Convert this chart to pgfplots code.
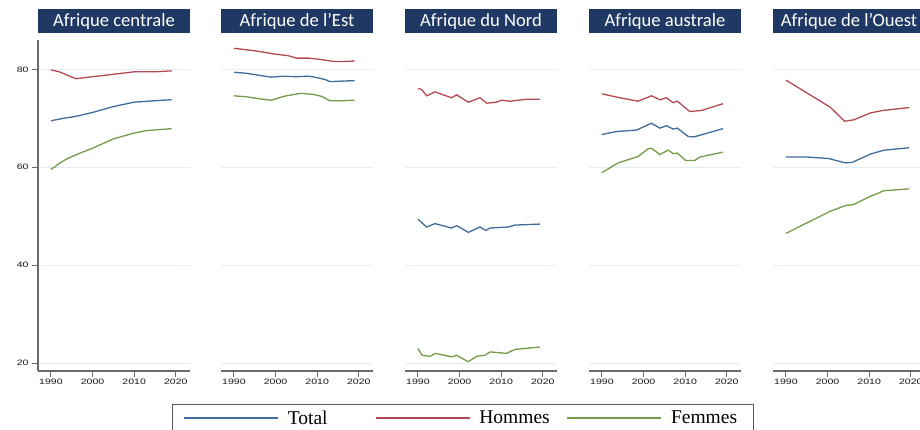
\documentclass[border=0pt]{standalone}
\usepackage{pgfplots}
\pgfplotsset{compat=1.18}
\usepackage{fontspec}
\setmainfont{Liberation Serif}
\newfontfamily\titlefont{Carlito}
\newfontfamily\tickfont[FakeStretch=1.35]{Liberation Sans}
\newfontfamily\legfont{Liberation Serif}
\definecolor{navy}{HTML}{1F3864}
\definecolor{cTot}{HTML}{3F6C9A}
\definecolor{cHom}{HTML}{B34A53}
\definecolor{cFem}{HTML}{76994B}
\definecolor{gridc}{HTML}{E6EDF1}
\definecolor{axc}{HTML}{6A6A6A}
\pgfplotsset{
  panel/.style={
    scale only axis, width=152pt, height=331pt,
    xmin=1986.9, xmax=2023.4, ymin=18.4, ymax=86,
    axis x line*=bottom, axis y line*=left,
    axis line style={-, draw=axc, line width=1.3pt},
    xtick={1990,2000,2010,2020}, ytick={20,40,60,80},
    tick align=outside, major tick length=6pt,
    tick style={draw=axc, line width=1pt},
    ymajorgrids, major grid style={draw=gridc, line width=0.9pt},
    /pgf/number format/1000 sep={},
    /pgf/number format/assume math mode=true,
    tick label style={font=\tickfont\fontsize{7.8}{8}\selectfont, text=black!90},
    xticklabel style={yshift=1pt},
    title style={at={(0.5,1)}, anchor=south, fill=navy, text=white,
      minimum width=152pt, minimum height=24pt, inner sep=0pt, yshift=0.5pt,
      font=\titlefont\fontsize{18.6}{20}\selectfont},
    every axis plot/.append style={line width=1.3pt, no markers},
  },
  noy/.style={y axis line style={draw=none}, ytick style={draw=none}, yticklabels={}},
}
\begin{document}
\begin{tikzpicture}
\useasboundingbox (0,0) rectangle (920pt,430pt);
% Panel 1
\begin{axis}[panel, at={(38pt,59pt)}, anchor=south west, title={Afrique centrale},
  legend columns=3,
  legend image code/.code={\draw[#1, line width=1.6pt] (0pt,0pt) -- (94pt,0pt);},
  legend style={at={(0.8796,-0.0997)}, anchor=north west, draw=black!65, line width=1pt,
    font=\legfont\fontsize{19.5}{22}\selectfont, inner xsep=11pt, inner ysep=6pt,
    column sep=9pt, nodes={inner sep=0pt},
    /tikz/every even column/.append style={column sep=20pt}}]
\addplot[cTot] coordinates {(1990,69.5)(1993,70.0)(1996,70.4)(2000,71.2)(2005,72.4)(2010,73.3)(2015,73.6)(2019,73.8)};
\addlegendentry{\makebox[67pt][l]{Total}}
\addplot[cHom] coordinates {(1990,79.9)(1992,79.5)(1994,78.8)(1996,78.1)(2000,78.5)(2005,79.0)(2010,79.5)(2015,79.5)(2019,79.7)};
\addlegendentry{\makebox[67pt][l]{Hommes}}
\addplot[cFem] coordinates {(1990,59.6)(1991,60.1)(1992,60.8)(1994,61.8)(1997,62.9)(2000,63.9)(2005,65.8)(2010,67.0)(2013,67.5)(2019,67.9)};
\addlegendentry{\makebox[71pt][l]{Femmes}}
\end{axis}
% Panel 2
\begin{axis}[panel, noy, at={(221pt,59pt)}, anchor=south west, title={Afrique de l’Est}]
\addplot[cTot] coordinates {(1990,79.4)(1993,79.2)(1996,78.8)(1999,78.4)(2002,78.6)(2005,78.5)(2008,78.6)(2010,78.3)(2012,77.9)(2013,77.5)(2016,77.6)(2019,77.7)};
\addplot[cHom] coordinates {(1990,84.3)(1995,83.8)(2000,83.1)(2003,82.8)(2005,82.3)(2008,82.3)(2011,82.0)(2014,81.6)(2016,81.6)(2019,81.7)};
\addplot[cFem] coordinates {(1990,74.6)(1993,74.4)(1996,74.0)(1999,73.7)(2002,74.5)(2006,75.1)(2009,74.9)(2011,74.5)(2013,73.6)(2016,73.6)(2019,73.7)};
\end{axis}
% Panel 3
\begin{axis}[panel, noy, at={(405pt,59pt)}, anchor=south west, title={Afrique du Nord}]
\addplot[cTot] coordinates {(1990,49.4)(1992.1,47.8)(1994.1,48.5)(1998.1,47.6)(1999.3,48.1)(2002.1,46.7)(2004.9,47.8)(2006.3,47.1)(2007.3,47.6)(2011.7,47.8)(2013.3,48.2)(2019.3,48.4)};
\addplot[cHom] coordinates {(1990,76.1)(1990.9,75.9)(1992.1,74.6)(1994.1,75.4)(1998.1,74.2)(1999.3,74.8)(2002.1,73.3)(2004.9,74.2)(2006.5,73.1)(2008.9,73.3)(2010.1,73.7)(2012.1,73.5)(2016.1,73.9)(2019.3,73.9)};
\addplot[cFem] coordinates {(1990,23.0)(1991,21.6)(1993,21.4)(1994.1,22.0)(1998.1,21.3)(1999.3,21.6)(2002.1,20.3)(2004.1,21.4)(2006.1,21.6)(2007.3,22.3)(2011.3,22.0)(2013.3,22.8)(2019.3,23.3)};
\end{axis}
% Panel 4
\begin{axis}[panel, noy, at={(589pt,59pt)}, anchor=south west, title={Afrique australe}]
\addplot[cTot] coordinates {(1990,66.7)(1993.5,67.3)(1998.3,67.6)(2001.9,69.0)(2003.9,68.0)(2005.5,68.5)(2007.1,67.8)(2008.1,68.0)(2010.7,66.3)(2012.1,66.2)(2019.1,67.9)};
\addplot[cHom] coordinates {(1990,75.0)(1994.3,74.2)(1998.7,73.5)(2001.9,74.6)(2003.9,73.8)(2005.5,74.2)(2007.1,73.2)(2008.1,73.5)(2011.1,71.4)(2013.9,71.6)(2019.1,73.0)};
\addplot[cFem] coordinates {(1990,58.9)(1993.9,60.9)(1998.7,62.2)(2001.1,63.8)(2001.9,63.9)(2003.9,62.6)(2005.9,63.5)(2007.1,62.8)(2008.1,62.9)(2010.1,61.4)(2012.3,61.4)(2013.5,62.1)(2019.1,63.1)};
\end{axis}
% Panel 5
\begin{axis}[panel, noy, at={(773pt,59pt)}, anchor=south west, title={Afrique de l’Ouest}]
\addplot[cTot] coordinates {(1990,62.1)(1995,62.1)(2000.2,61.8)(2004.3,60.9)(2005.9,61.0)(2010.3,62.7)(2012.3,63.2)(2013.6,63.5)(2019.6,64.0)};
\addplot[cHom] coordinates {(1990,77.8)(1995.4,75.0)(2000.6,72.3)(2004.1,69.4)(2006.3,69.7)(2010.3,71.1)(2013.2,71.6)(2019.6,72.2)};
\addplot[cFem] coordinates {(1990,46.5)(1995.4,48.8)(2000.6,51.0)(2004.3,52.2)(2006.3,52.4)(2010.3,54.1)(2011.9,54.6)(2013.4,55.2)(2019.6,55.6)};
\end{axis}
\end{tikzpicture}
\end{document}
